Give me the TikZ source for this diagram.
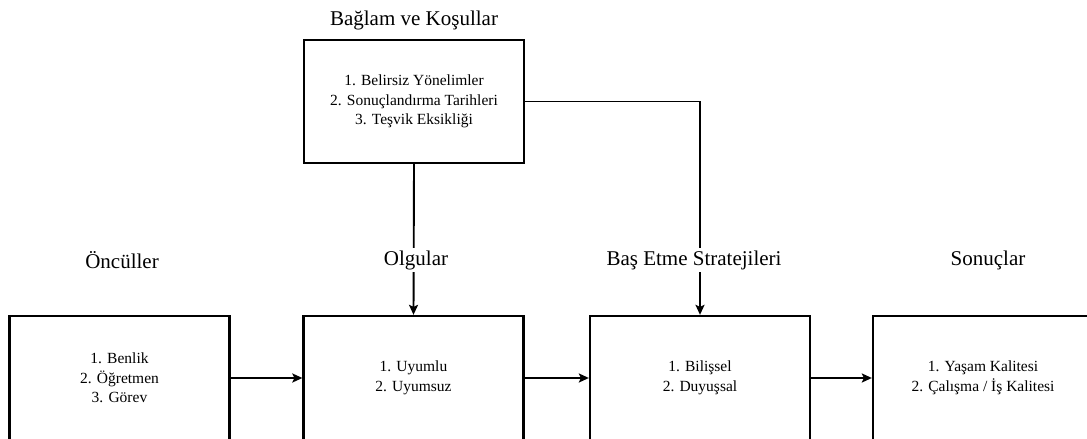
\documentclass[tikz,border=0pt]{standalone}
\usepackage{fontspec}
\setmainfont{Liberation Serif}
\usetikzlibrary{arrows.meta}
\begin{document}
\begin{tikzpicture}[x=1pt,y=-1pt,
  box/.style={draw, line width=2.3pt, minimum width=220pt, minimum height=124pt, align=center, inner sep=0pt, font=\fontsize{15.5}{19.5}\selectfont},
  ttl/.style={fill=white, inner sep=2pt, font=\fontsize{21}{24}\selectfont},
  arr/.style={line width=1.9pt, -{Stealth[length=10pt,width=9pt,inset=2pt]}},
  ln/.style={line width=1.9pt}]
\useasboundingbox (0,0) rectangle (1087,439);
\node[box, minimum height=123pt] (top) at (414,101.5) {1. Belirsiz Yönelimler\\2. Sonuçlandırma Tarihleri\\3. Teşvik Eksikliği};
\node[ttl] (ttop) at (414,20) {Bağlam ve Koşullar};
\node[box] (b1) at (119.5,378) {1. Benlik\\2. Öğretmen\\3. Görev};
\node[box] (b2) at (413.5,378) {1. Uyumlu\\2. Uyumsuz};
\node[box] (b3) at (700,378) {1. Bilişsel\\2. Duyuşsal};
\node[box] (b4) at (983,378) {1. Yaşam Kalitesi\\2. Çalışma / İş Kalitesi};
\coordinate (corner) at (700,101.5);
\draw[arr] (top.south) -- (b2.north);
\draw[arr] (top.east) -- (corner) -- (b3.north);
\draw[arr] (b1) -- (b2);
\draw[arr] (b2) -- (b3);
\draw[arr] (b3) -- (b4);
\node[ttl] (t1) at (122,260) {Öncüller};
\node[ttl] (t2) at (416,260) {Olgular};
\node[ttl] (t3) at (694,260) {Baş Etme Stratejileri};
\node[ttl] (t4) at (988,260) {Sonuçlar};
\end{tikzpicture}
\end{document}
